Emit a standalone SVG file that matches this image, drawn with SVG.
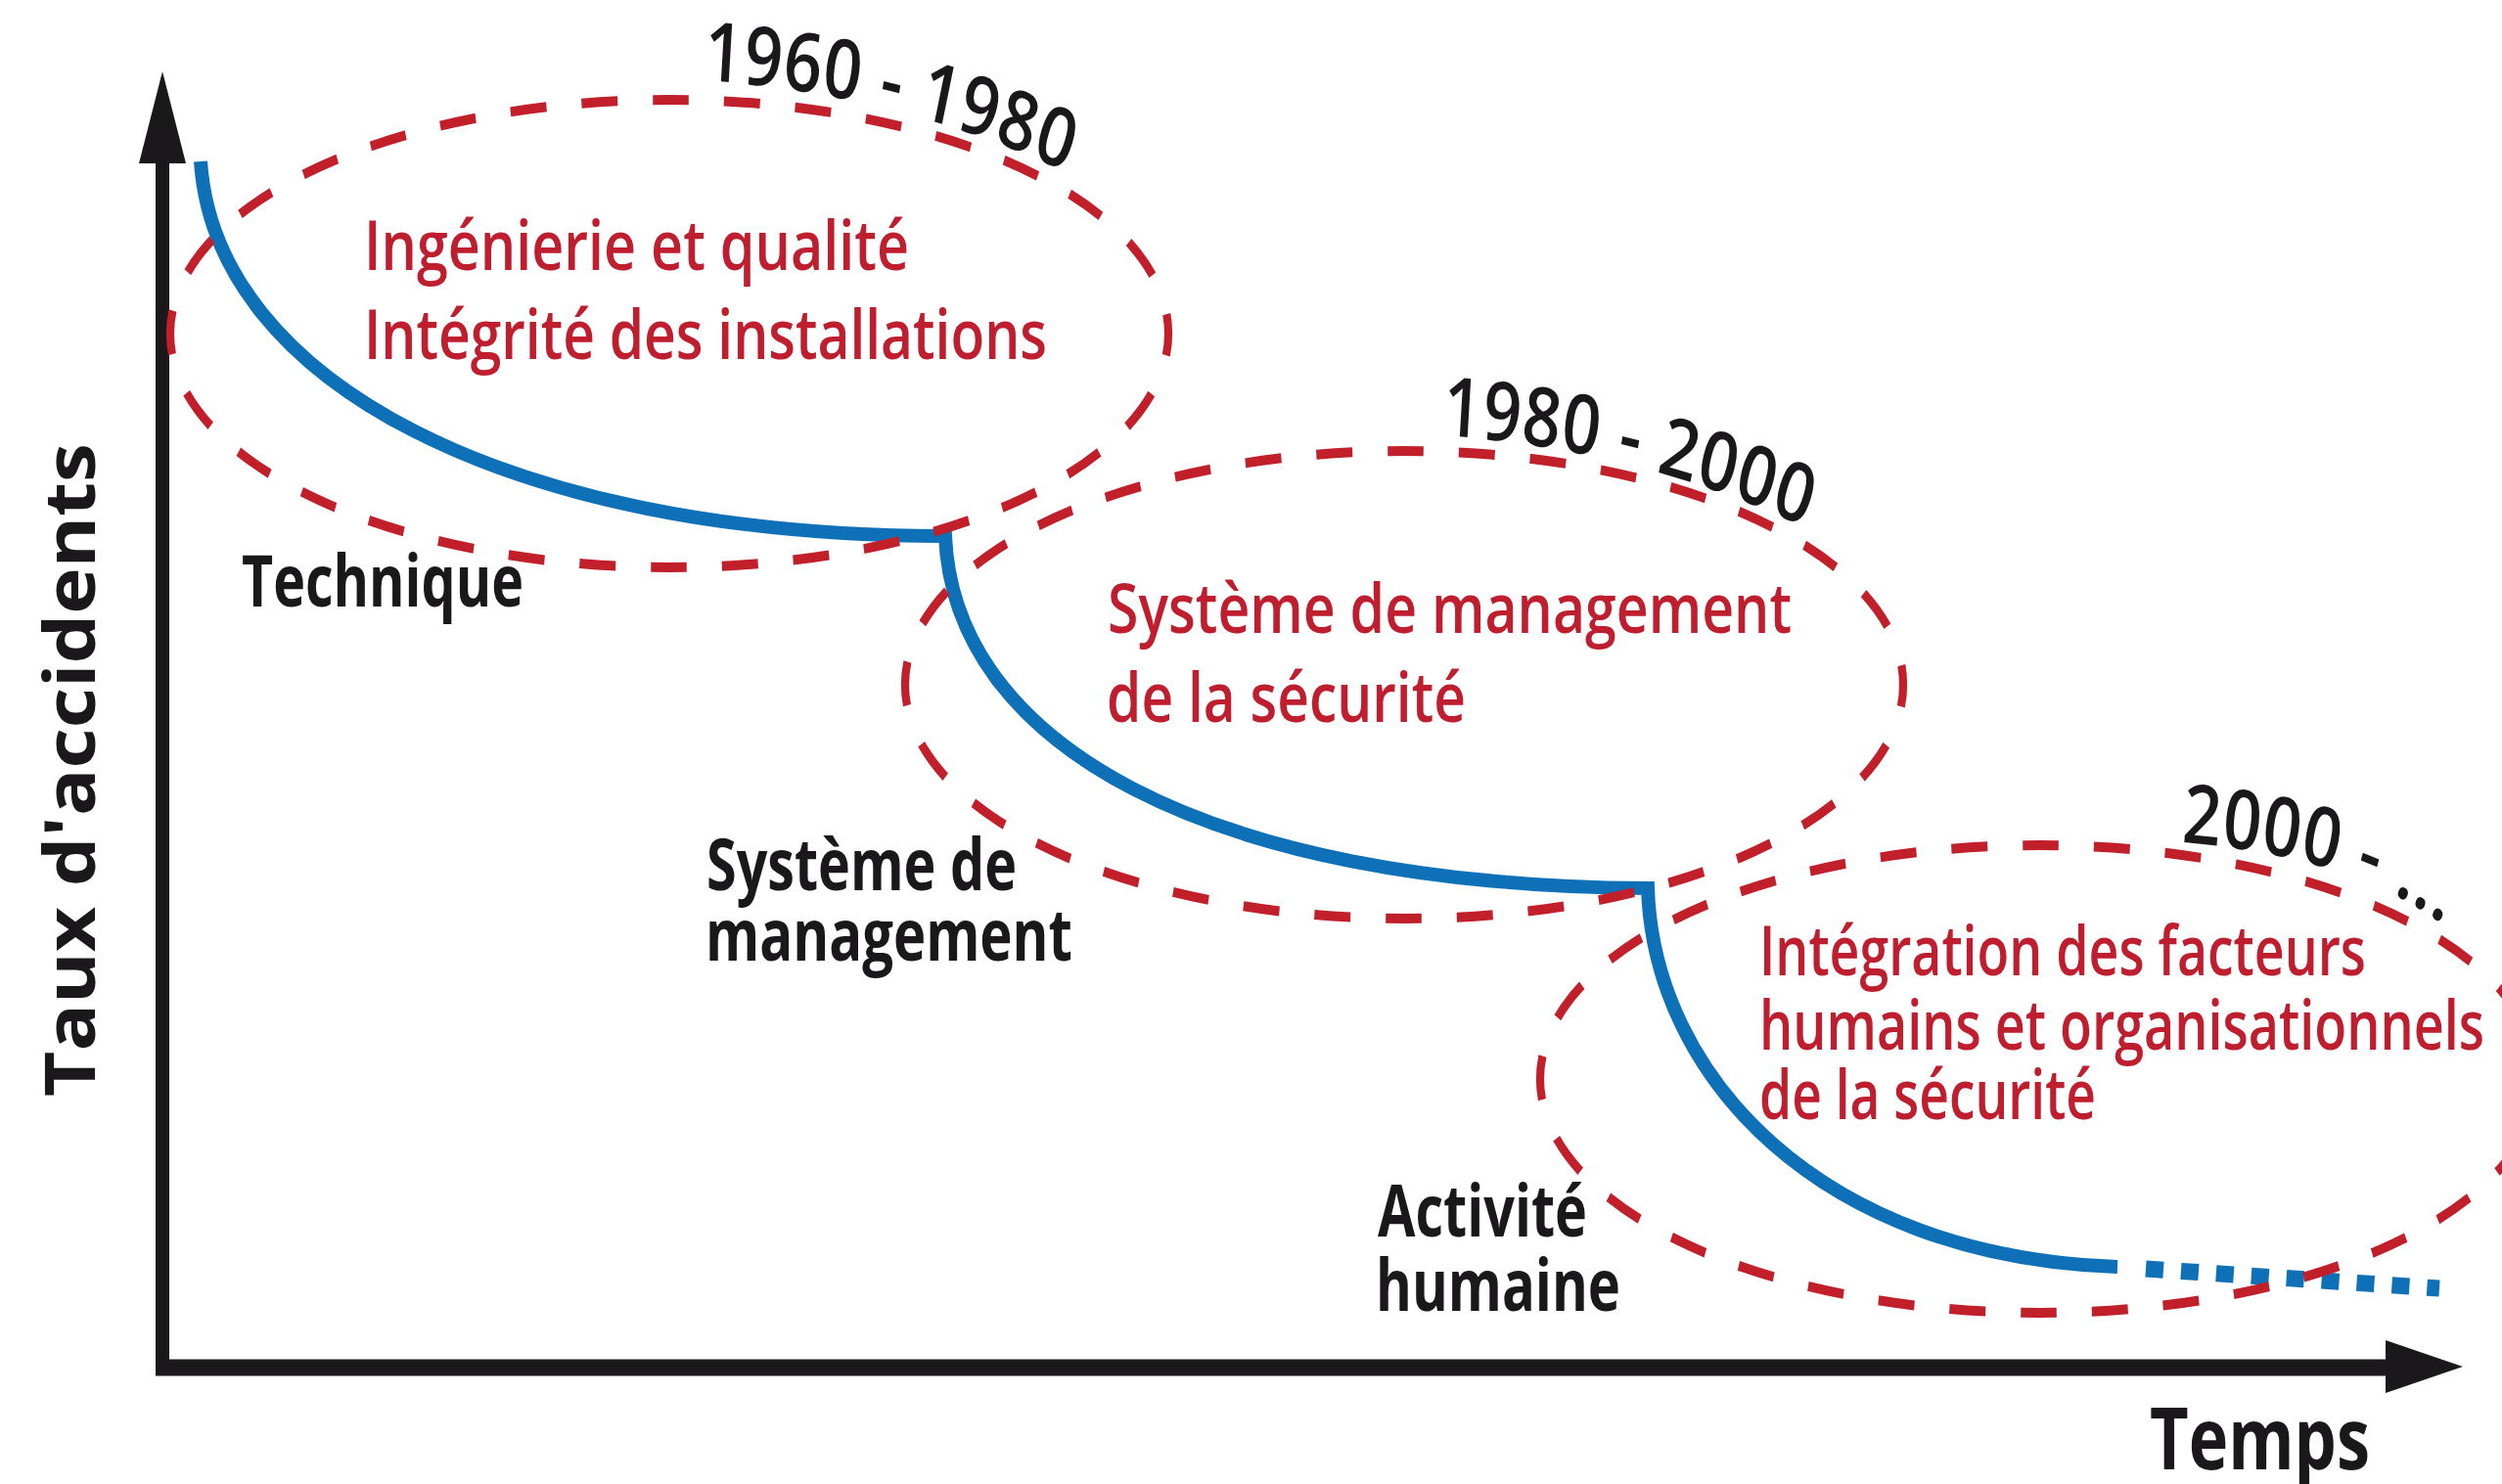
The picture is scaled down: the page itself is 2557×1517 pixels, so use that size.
<svg xmlns="http://www.w3.org/2000/svg" width="2557" height="1517" viewBox="0 0 2557 1517">
<defs>
<style>
.bg{fill:#ffffff}
.axis{stroke:#1b181c;fill:none}
.arrow{fill:#1b181c}
.blue{fill:none;stroke:#0e71b8;stroke-width:14;stroke-linejoin:miter;stroke-linecap:butt}
.dots{fill:none;stroke:#0e71b8;stroke-width:17;stroke-dasharray:18 18;stroke-linecap:butt}
.ell{fill:none;stroke:#c1202b;stroke-width:10;stroke-dasharray:45 43.83;stroke-dashoffset:22.5}
.red{font-family:'Open Sans','Liberation Sans',sans-serif;font-weight:600;font-size:71px;fill:#bf1e2e}
.lbl{font-family:'Open Sans','Liberation Sans',sans-serif;font-weight:700;font-size:73px;fill:#1b181c}
.year{font-family:'Open Sans','Liberation Sans',sans-serif;font-weight:600;font-size:84px;fill:#1b181c;letter-spacing:1px}
.ax{font-family:'Open Sans','Liberation Sans',sans-serif;font-weight:700;font-size:88px;fill:#1b181c}
</style>
<path id="pA" d="M876,82 Q1129.3,96 1343.9,182 L1399.6,204.3"/>
<path id="pB" d="M1796.7,445 Q2050,459 2264.6,545 L2320.3,567.3"/>
<path id="pC" d="M2718.3,861 Q2932.9,875 3045.1,945 L3087.2,972"/>
</defs>
<rect class="bg" x="0" y="0" width="2557" height="1517"/>

<g id="axes">
<line class="axis" x1="166" y1="160" x2="166" y2="1406" stroke-width="14"/>
<polygon class="arrow" points="166,73 190,167 142,167"/>
<line class="axis" x1="159" y1="1398" x2="2445" y2="1398" stroke-width="17"/>
<polygon class="arrow" points="2517,1397 2438,1370 2438,1424"/>
</g>

<g id="connectors">
<path class="blue" d="M205,165 C220,390 520,548 966,548 C975,760 1230,905 1684,908 C1690,1100 1860,1285 2164,1295"/>
<path class="dots" d="M2193,1297 L2493,1317"/>
</g>

<g id="era-1960-1980">
<g transform="translate(684,341) scale(0.82,1)"><ellipse class="ell" cx="0" cy="0" rx="622" ry="239"/></g>
<g transform="scale(0.82,1)"><text class="year"><textPath href="#pA">1960 - 1980</textPath></text></g>
<text class="red" transform="translate(372,276) scale(0.74,1)" x="0" y="0" textLength="752.7" lengthAdjust="spacingAndGlyphs">Ingénierie et qualité</text>
<text class="red" transform="translate(372,367) scale(0.74,1)" x="0" y="0" textLength="943.2" lengthAdjust="spacingAndGlyphs">Intégrité des installations</text>
</g>

<g id="era-1980-2000">
<g transform="translate(1435,700) scale(0.82,1)"><ellipse class="ell" cx="0" cy="0" rx="622" ry="239"/></g>
<g transform="scale(0.82,1)"><text class="year"><textPath href="#pB">1980 - 2000</textPath></text></g>
<text class="red" transform="translate(1132,647) scale(0.74,1)" x="0" y="0" textLength="944.6" lengthAdjust="spacingAndGlyphs">Système de management</text>
<text class="red" transform="translate(1131,738) scale(0.74,1)" x="0" y="0" textLength="495.9" lengthAdjust="spacingAndGlyphs">de la sécurité</text>
</g>

<g id="era-2000">
<g transform="translate(2084,1103) scale(0.82,1)"><ellipse class="ell" cx="0" cy="0" rx="622" ry="239"/></g>
<g transform="scale(0.82,1)"><text class="year"><textPath href="#pC">2000 - ...</textPath></text></g>
<text class="red" transform="translate(1798,997) scale(0.74,1)" x="0" y="0" textLength="837.8" lengthAdjust="spacingAndGlyphs">Intégration des facteurs</text>
<text class="red" transform="translate(1798,1073) scale(0.74,1)" x="0" y="0" textLength="1001.4" lengthAdjust="spacingAndGlyphs">humains et organisationnels</text>
<text class="red" transform="translate(1798,1144) scale(0.74,1)" x="0" y="0" textLength="464.9" lengthAdjust="spacingAndGlyphs">de la sécurité</text>
</g>

<g id="label-technique">
<text class="lbl" transform="translate(247,620) scale(0.75,1)" x="0" y="0" textLength="384" lengthAdjust="spacingAndGlyphs">Technique</text>
</g>
<g id="label-systeme">
<text class="lbl" transform="translate(722,910) scale(0.75,1)" x="0" y="0" textLength="422.7" lengthAdjust="spacingAndGlyphs">Système de</text>
<text class="lbl" transform="translate(721,982) scale(0.75,1)" x="0" y="0" textLength="500" lengthAdjust="spacingAndGlyphs">management</text>
</g>
<g id="label-activite">
<text class="lbl" transform="translate(1408,1264) scale(0.75,1)" x="0" y="0" textLength="285.3" lengthAdjust="spacingAndGlyphs">Activité</text>
<text class="lbl" transform="translate(1406,1340) scale(0.75,1)" x="0" y="0" textLength="333.3" lengthAdjust="spacingAndGlyphs">humaine</text>
</g>
<g id="axis-labels">
<text class="ax" transform="translate(2197,1502) scale(0.77,1)" x="0" y="0" textLength="292.2" lengthAdjust="spacingAndGlyphs">Temps</text>
<text class="ax" transform="translate(97,1121) rotate(-90) scale(1,0.82)" x="0" y="0" textLength="668" lengthAdjust="spacingAndGlyphs">Taux d'accidents</text>
</g>
</svg>
